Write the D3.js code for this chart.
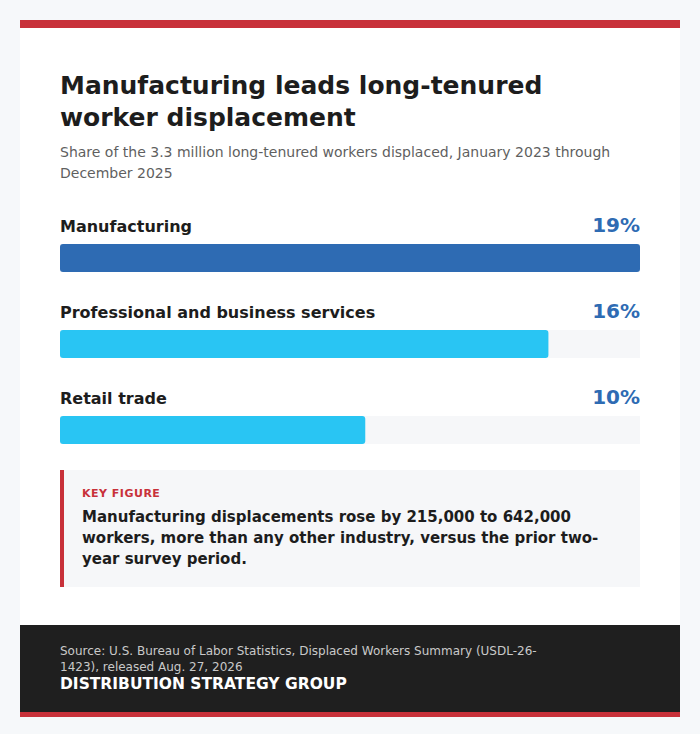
<!DOCTYPE html>
<html><head><meta charset="utf-8">
<script src="https://cdn.jsdelivr.net/npm/d3@7"></script>
<style>
body{margin:0;background:#f6f8fa;font-family:"DejaVu Sans",sans-serif;}
#card{position:absolute;left:20px;top:20px;width:660px;background:#fff;border-top:8px solid #c8313a;}
#inner{padding:42px 40px 38px 40px;}
h1{margin:0;font-size:25px;line-height:32px;color:#1d1d1d;font-weight:bold;}
#sub{margin-top:8px;font-size:14px;line-height:21px;color:#5f5f5f;}
#chart{margin-top:28px;display:block;}
#key{margin-top:26px;background:#f6f7f9;border-left:4px solid #c8313a;padding:17px 18px 17px 18px;}
#key .k{font-size:11px;font-weight:bold;color:#c8313a;letter-spacing:0.5px;}
#key .t{margin-top:7px;font-size:15px;line-height:21px;font-weight:bold;color:#1d1d1d;}
#foot{background:#1f1f1f;padding:18px 40px 19px 40px;border-bottom:5px solid #c8313a;}
#foot .s{font-size:12px;line-height:16px;color:#c9c9c9;width:490px;}
#foot .b{font-size:15.5px;font-weight:bold;color:#fff;margin-top:0px;}
</style></head><body>
<div id="card">
 <div id="inner">
  <h1>Manufacturing leads long-tenured worker displacement</h1>
  <div id="sub">Share of the 3.3 million long-tenured workers displaced, January 2023 through December 2025</div>
  <svg id="chart"></svg>
  <div id="key"><div class="k">KEY FIGURE</div><div class="t">Manufacturing displacements rose by 215,000 to 642,000 workers, more than any other industry, versus the prior two-year survey period.</div></div>
 </div>
 <div id="foot"><div class="s">Source: U.S. Bureau of Labor Statistics, Displaced Workers Summary (USDL-26-1423), released Aug. 27, 2026</div><div class="b">DISTRIBUTION STRATEGY GROUP</div></div>
</div>
<script>
const industries = ["Manufacturing", "Professional and business services", "Retail trade"];
const shares = [19, 16, 10];
const colors = ["#2e6bb3", "#29c5f3", "#29c5f3"];

const w = 580, rowH = 86, barH = 28, barTop = 28, padTop = 4;
const h = padTop + rowH * (industries.length - 1) + barTop + barH;
const x = d3.scaleLinear().domain([0, d3.max(shares)]).range([0, w]);
const y = d3.scaleBand().domain(industries).range([padTop, padTop + rowH * industries.length]);

const svg = d3.select('#chart').attr('width', w).attr('height', h);
const g = svg.selectAll('g.row').data(industries).enter().append('g')
  .attr('transform', d => 'translate(0,' + y(d) + ')');

g.append('rect').attr('y', barTop).attr('width', w).attr('height', barH).attr('fill', '#f6f7f9');
g.append('rect').attr('y', barTop).attr('height', barH).attr('rx', 3)
  .attr('width', (d, i) => x(shares[i])).attr('fill', (d, i) => colors[i]);
g.append('text').text(d => d).attr('y', 16).style('font-size', '16px').style('font-weight', 'bold').attr('fill', '#1d1d1d');
g.append('text').text((d, i) => shares[i] + '%').attr('x', w).attr('y', 16).attr('text-anchor', 'end')
  .style('font-size', '20px').style('font-weight', 'bold').attr('fill', '#2e6bb3');
</script>
</body></html>
